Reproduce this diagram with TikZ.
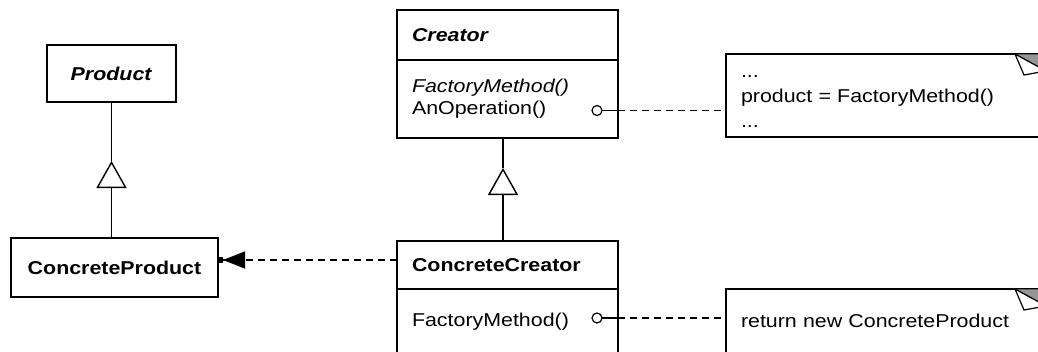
\documentclass[tikz,border=0pt]{standalone}
\usepackage{fontspec}
\setmainfont{Liberation Sans}[FakeStretch=1.15]
\usetikzlibrary{positioning,arrows.meta}
\definecolor{foldgrey}{RGB}{150,150,150}
\newcommand{\dogear}[1]{%
  \begin{scope}[shift={(#1.north east)}]
    \filldraw[fill=foldgrey,line width=0.8pt] (-31,0) -- (0,0) -- (0,-17) -- cycle;
    \filldraw[fill=white,line width=1.2pt] (-31,0) -- (-22,-21) -- (0,-17) -- cycle;
  \end{scope}}

\begin{document}
\begin{tikzpicture}[x=1pt,y=1pt,%
  font=\fontsize{18.6}{22}\selectfont,%
  cls/.style={draw,line width=1.4pt,outer sep=0pt,text width=191pt,inner xsep=15pt,inner ysep=0pt,align=left},%
  box/.style={draw,line width=1.4pt,outer sep=0pt,inner sep=0pt,font=\fontsize{18.6}{22}\selectfont\bfseries},%
  note/.style={draw,line width=1.4pt,outer sep=0pt,text width=290pt,inner xsep=15pt,inner ysep=0pt,align=left},%
  pin/.style={draw,circle,line width=1.2pt,outer sep=0pt,minimum size=10pt,inner sep=0pt},%
  conn/.style={line width=1.4pt},%
  link/.style={conn,dash pattern=on 7pt off 5pt},%
  inherit/.style={conn,-{Triangle[open,length=27pt,width=30pt]}},%
  dep/.style={link,-{Triangle[length=22pt,width=17pt,sep=0pt]Rectangle[length=5pt,width=6pt]}}%
  ]
  \useasboundingbox (0,0) rectangle (1038,-351);
  \clip (0,0) rectangle (1038,-351);
%
  \node (cr-name) [cls,minimum height=50pt,anchor=north west] at (397,-10) {\textbf{\textit{Creator}}};
  \node (cr-ops)  [cls,minimum height=78pt,below=0pt of cr-name] {\textit{FactoryMethod()}\\AnOperation()};
  \node (cc-name) [cls,minimum height=48pt,below=103pt of cr-ops] {\textbf{ConcreteCreator}};
  \node (cc-ops)  [cls,text height=37pt,text depth=40pt,below=0pt of cc-name] {FactoryMethod()};
%
  \node (prod) [box,minimum width=129pt,minimum height=57pt,left=221pt of cr-name,yshift=-38.5pt] {\textit{Product}};
  \node (cp)   [box,minimum width=207pt,minimum height=59pt,below=136pt of prod,xshift=3pt] {ConcreteProduct};
%
  \node (note1) [note,text height=23pt,text depth=60pt,right=108pt of cr-ops,yshift=3.5pt,font=\fontsize{18.6}{25}\selectfont] {...\\product = FactoryMethod()\\...};
  \node (note2) [note,text height=38pt,text depth=39pt,right=108pt of cc-ops] {return new ConcreteProduct};
  \dogear{note1}
  \dogear{note2}
%
  \node (dot1) [pin,left=16pt of cr-ops.east,yshift=-11.5pt] {};
  \node (dot2) [pin,left=16pt of cc-ops.east,yshift=9.5pt] {};
%
  \path (prod.south) ++(0,-59) coordinate (g1);
  \path (cr-ops.south) ++(-4.5,-30) coordinate (g2);
%
  \draw[inherit] (g1 |- cp.north) -- (g1);
  \draw[conn] (g1) -- (prod.south);
  \draw[inherit] (g2 |- cc-name.north) -- (g2);
  \draw[conn] (g2) -- (g2 |- cr-ops.south);
  \draw[dep] ([yshift=5pt]cc-name.west) -- ([yshift=5pt]cc-name.west -| cp.east);
  \draw[conn] (dot1) -- (dot1 -| cr-ops.east);
  \draw[link] (dot1 -| cr-ops.east) -- (dot1 -| note1.west);
  \draw[conn] (dot2) -- (dot2 -| cc-ops.east);
  \draw[link] (dot2 -| cc-ops.east) -- (dot2 -| note2.west);
%
\end{tikzpicture}
\end{document}
